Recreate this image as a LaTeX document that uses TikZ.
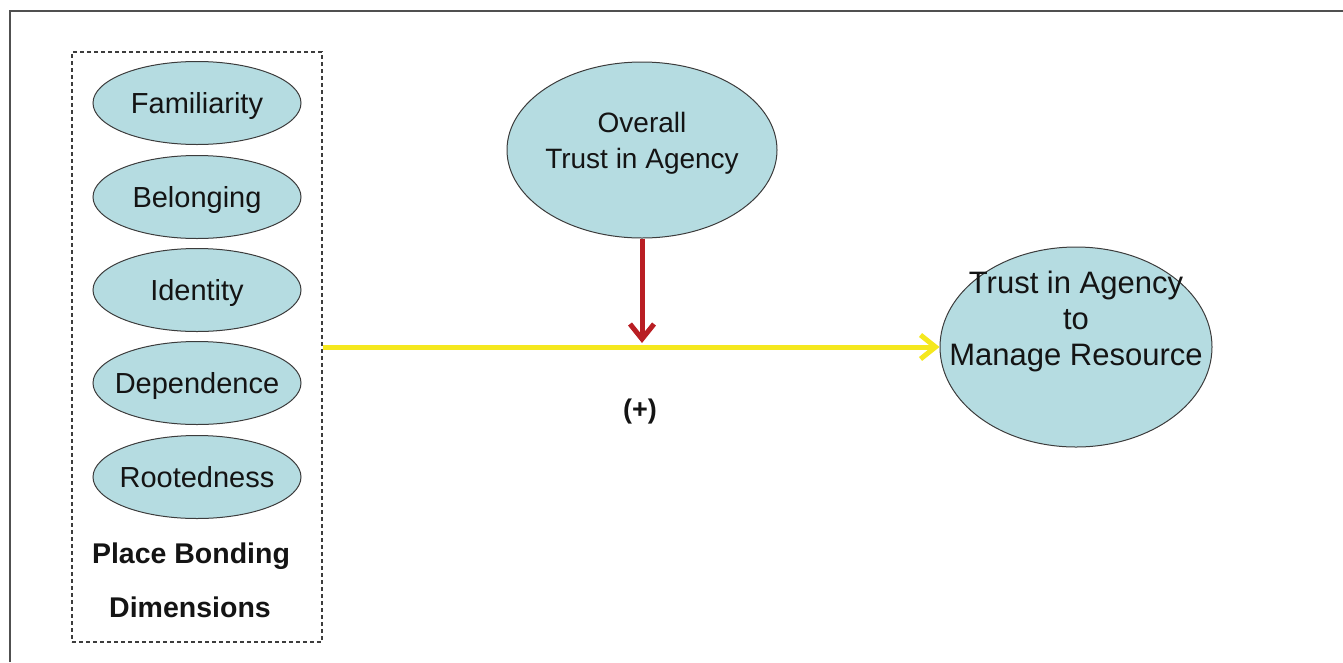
\documentclass[tikz,border=0pt]{standalone}
\usepackage{fontspec}
\setmainfont{Liberation Sans}
\usetikzlibrary{shapes.geometric,arrows.meta}
\definecolor{ellfill}{RGB}{181,220,225}
\definecolor{ellline}{RGB}{60,60,60}
\definecolor{arrred}{RGB}{185,30,35}
\definecolor{arryel}{RGB}{245,232,30}
\definecolor{framegray}{RGB}{80,80,80}
\definecolor{txt}{RGB}{20,20,20}
\begin{document}
\begin{tikzpicture}[x=1pt,y=-1pt,
  ell/.style={ellipse,draw=ellline,line width=1pt,fill=ellfill,inner sep=0pt},
  dimell/.style={ell,minimum width=208pt,minimum height=83pt},
  dimtext/.style={font=\fontsize{29}{35}\selectfont,text height=21pt,text depth=0pt,
    inner sep=0pt,text=txt},
  bigtext/.style={align=center,inner sep=0pt,text=txt},
  title/.style={font=\fontsize{28.5}{34}\selectfont\bfseries,anchor=base,text=txt,inner sep=0pt},
  pbbox/.style={draw=ellline,line width=1.2pt,dash pattern=on 4pt off 3pt,
    minimum width=250pt,minimum height=590pt,inner sep=0pt},
  yelarrow/.style={draw=arryel,line width=5pt,-{Straight Barb[length=15pt,width=24pt]}},
  redarrow/.style={draw=arrred,line width=5pt,-{Straight Barb[length=15pt,width=24pt]}}
]
\useasboundingbox (0,0) rectangle (1343,662);
\draw[framegray,line width=2pt] (9.5,662) -- (9.5,11) -- (1343,11);

\node[pbbox] (pb) at (197,347) {};
\node[dimell,label={[dimtext]center:Familiarity}] (fam) at (197,103) {};
\node[dimell,label={[dimtext]center:Belonging}] (bel) at (197,197) {};
\node[dimell,label={[dimtext]center:Identity}] (ide) at (197,290) {};
\node[dimell,label={[dimtext]center:Dependence}] (dep) at (197,383) {};
\node[dimell,label={[dimtext]center:Rootedness}] (roo) at (197,477) {};
\node[title] (pbt1) at (191,563) {Place Bonding};
\node[title] (pbt2) at (190,617) {Dimensions};

\node[ell,minimum width=270pt,minimum height=176pt,
  label={[bigtext,font=\fontsize{28}{36}\selectfont,text height=56pt,text depth=20pt]center:Overall\\Trust in Agency}]
  (ov) at (642,150) {};
\node[ell,minimum width=272pt,minimum height=200pt,
  label={[bigtext,font=\fontsize{31}{36}\selectfont,text height=88pt,text depth=52pt]center:Trust in Agency\\to\\Manage Resource}]
  (tm) at (1076,347) {};

\coordinate (hit) at (642,343);
\draw[yelarrow] (pb.east) -- (tm.west);
\draw[redarrow] (ov.south) -- (hit);
\node[font=\fontsize{27}{32}\selectfont\bfseries,text=txt] (plus) at (640,412) {(+)};
\end{tikzpicture}
\end{document}
